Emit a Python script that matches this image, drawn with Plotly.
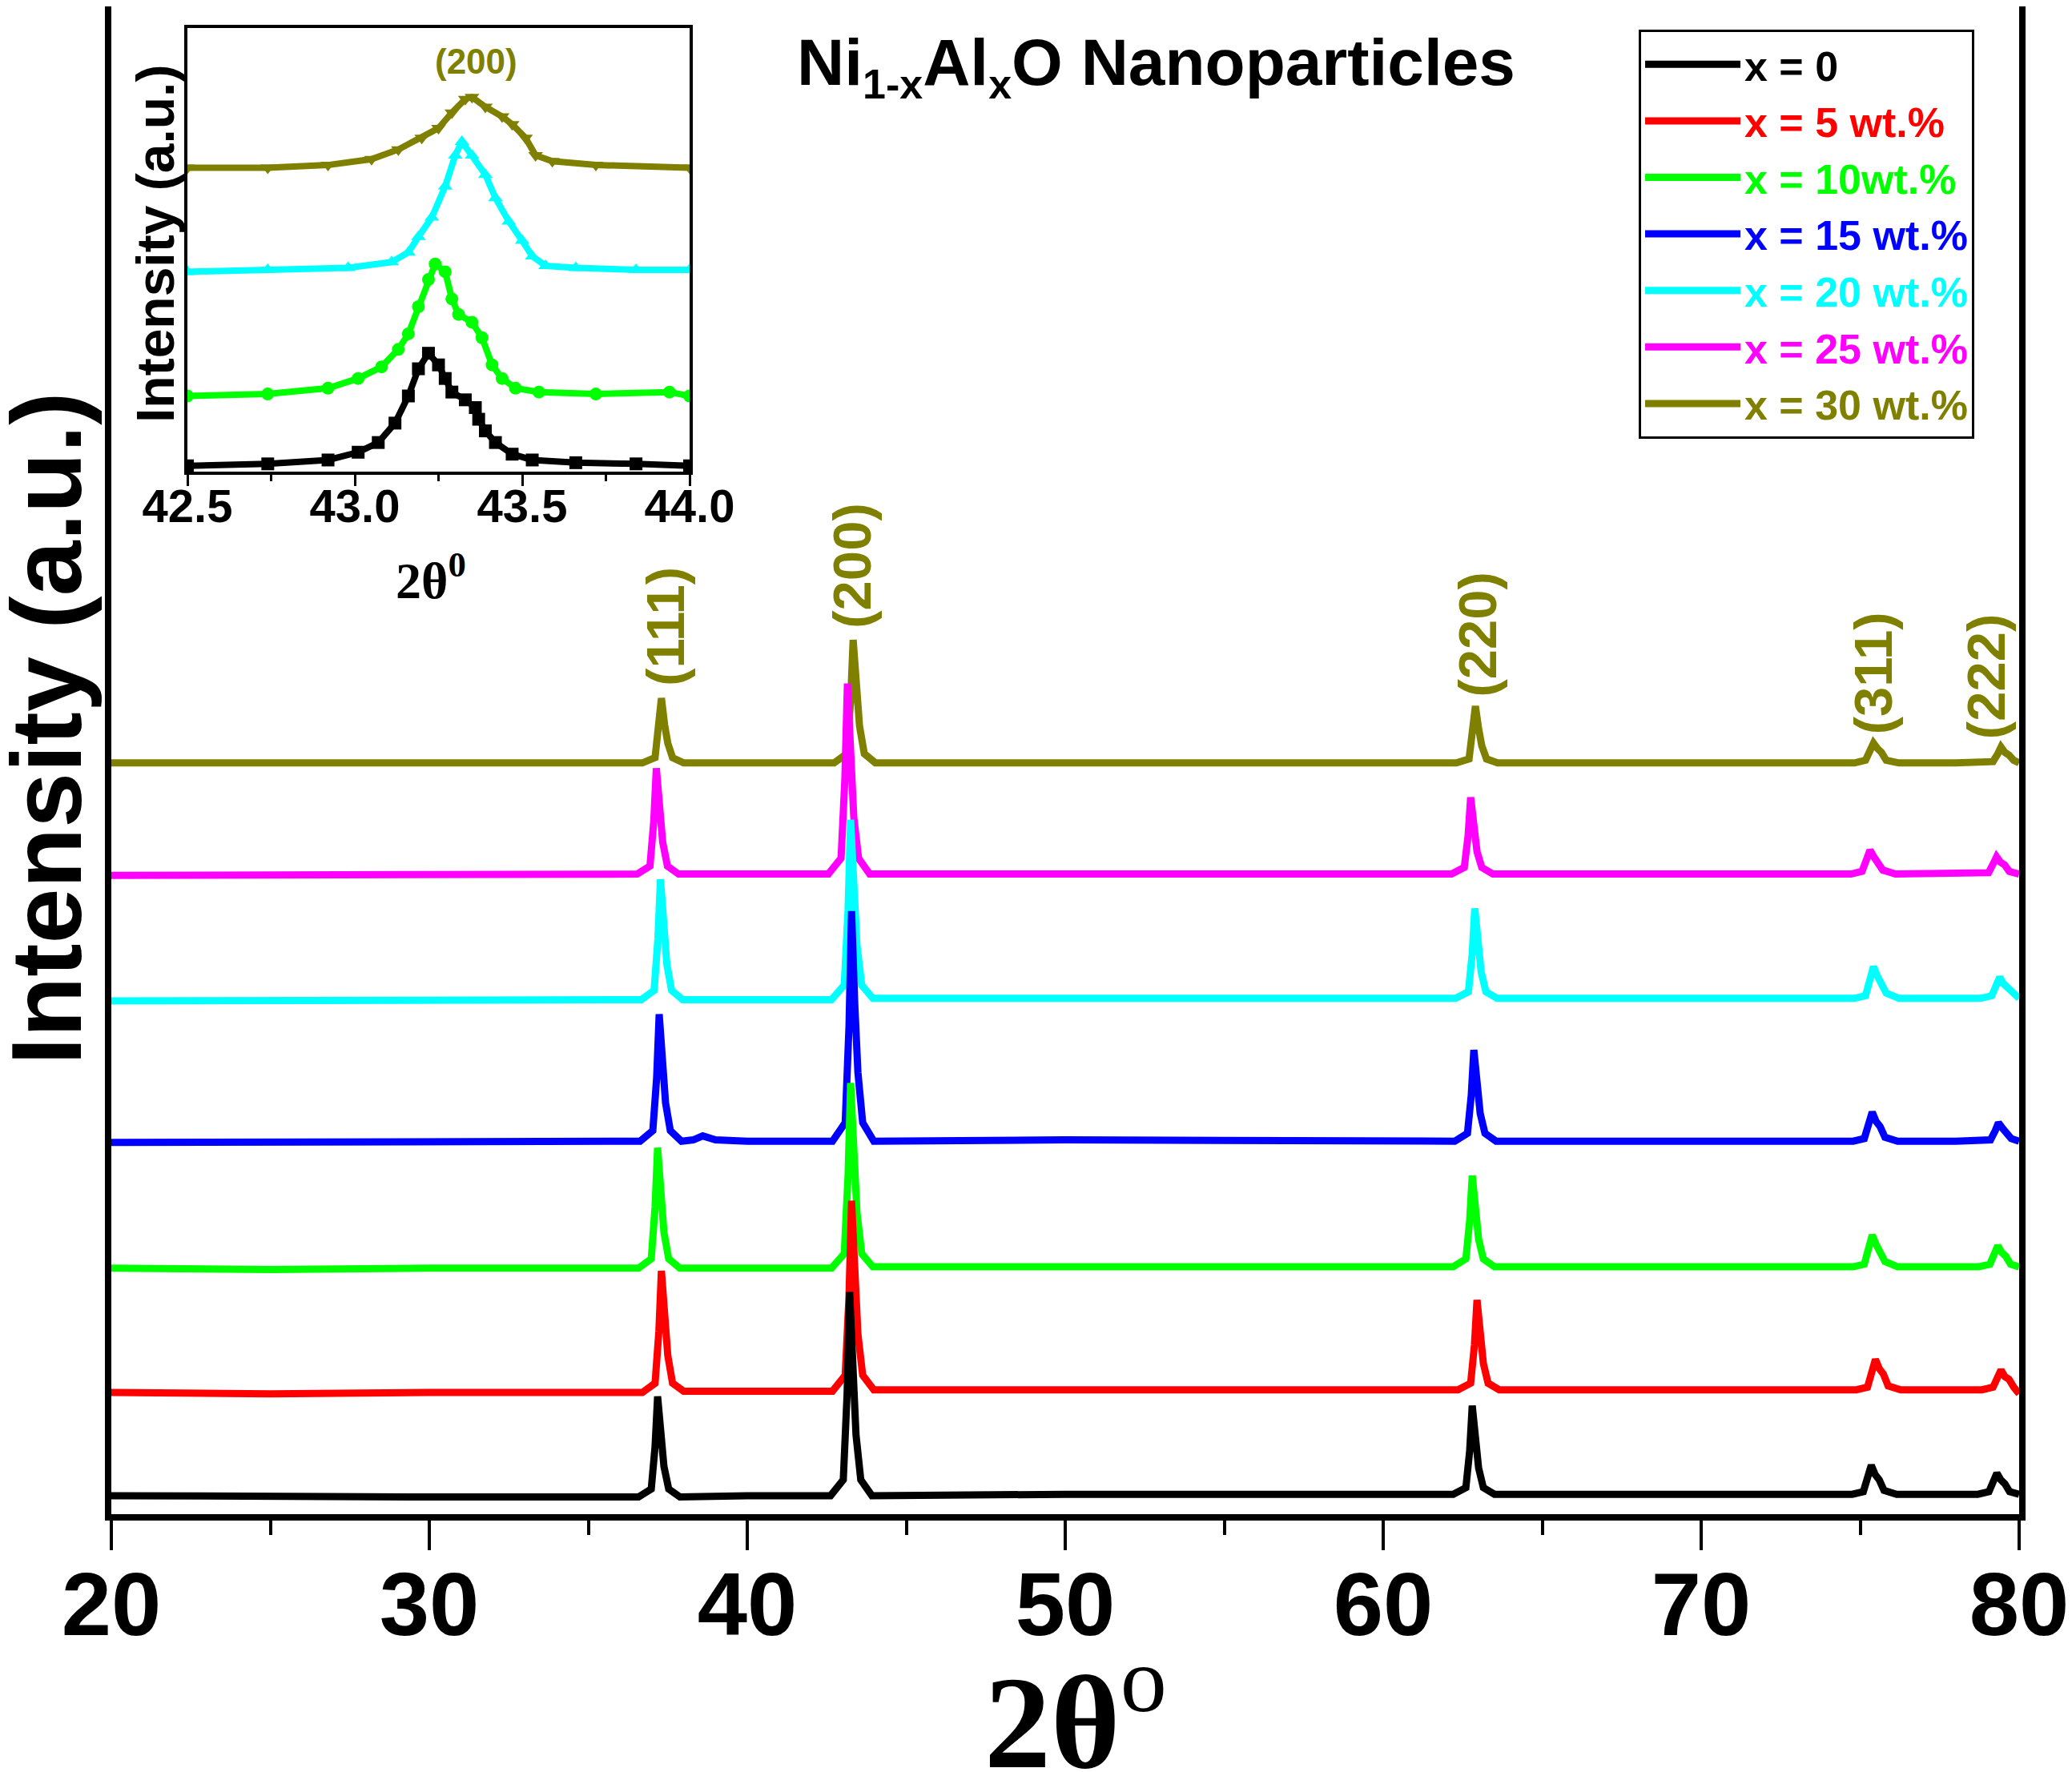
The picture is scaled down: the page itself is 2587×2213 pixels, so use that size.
import plotly.graph_objects as go

# Stacked XRD patterns (2theta in degrees, intensity in a.u. with the vertical offset already applied)
two_theta_0 = [20, 25, 30, 34, 36.58, 36.98, 37.10, 37.18, 37.28, 37.38, 37.53, 37.88, 40,
               42.62, 43.02, 43.14, 43.22, 43.32, 43.42, 43.57, 43.92, 50, 56, 61,
               62.20, 62.60, 62.72, 62.80, 62.90, 63.00, 63.15, 63.50, 70,
               74.75, 75.10, 75.25, 75.35, 75.47, 75.60, 75.75, 76.15, 78,
               78.70, 79.05, 79.20, 79.30, 79.42, 79.55, 79.70, 80.0]
intensity_0 = [14, 13, 13, 13, 13, 19, 51, 89, 59, 36, 19, 13, 14,
               14, 26, 91, 168, 106, 60, 26, 14, 15, 15, 15,
               15, 20, 48, 82, 55, 35, 20, 15, 15,
               15, 17, 28, 37, 30, 26, 18, 15, 15,
               15, 17, 25, 31, 26, 23, 17, 15]

two_theta_5 = [20, 25, 30, 34, 36.70, 37.10, 37.22, 37.30, 37.40, 37.50, 37.65, 38.00, 40,
               42.68, 43.08, 43.20, 43.28, 43.38, 43.48, 43.63, 43.98, 50, 56, 61,
               62.35, 62.75, 62.87, 62.95, 63.05, 63.15, 63.30, 63.65, 70,
               74.88, 75.23, 75.38, 75.48, 75.60, 75.73, 75.88, 76.28, 78,
               78.83, 79.18, 79.33, 79.43, 79.55, 79.68, 79.83, 80.0]
intensity_5 = [92, 91, 92, 92, 92, 99, 138, 184, 147, 120, 99, 93, 93,
               93, 105, 165, 237, 180, 136, 105, 94, 94, 94, 94,
               94, 99, 128, 162, 135, 114, 99, 94, 94,
               94, 96, 108, 117, 110, 106, 97, 94, 94,
               94, 96, 103, 109, 104, 102, 96, 91]

two_theta_10 = [20, 25, 30, 34, 36.58, 36.98, 37.10, 37.18, 37.28, 37.38, 37.53, 37.88, 40,
                42.65, 43.05, 43.17, 43.25, 43.35, 43.45, 43.60, 43.95, 50, 56, 61,
                62.20, 62.60, 62.72, 62.80, 62.90, 63.00, 63.15, 63.50, 70,
                74.78, 75.13, 75.28, 75.38, 75.50, 75.63, 75.78, 76.18, 78,
                78.73, 79.08, 79.23, 79.33, 79.45, 79.58, 79.73, 80.0]
intensity_10 = [186, 185, 186, 186, 186, 193, 232, 277, 241, 213, 193, 186, 186,
                186, 197, 256, 326, 270, 228, 197, 187, 187, 187, 187,
                187, 193, 222, 256, 228, 208, 193, 187, 187,
                187, 189, 201, 211, 204, 199, 191, 187, 187,
                187, 189, 197, 203, 198, 195, 189, 187]

two_theta_15 = [20, 25, 30, 34, 36.63, 37.03, 37.15, 37.23, 37.33, 37.43, 37.58, 37.93,
                38.3, 38.6, 39.0, 40,
                42.68, 43.08, 43.20, 43.28, 43.38, 43.48, 43.63, 43.98, 50, 56, 61,
                62.25, 62.65, 62.77, 62.85, 62.95, 63.05, 63.20, 63.55, 70,
                74.78, 75.13, 75.28, 75.38, 75.50, 75.63, 75.78, 76.18, 78,
                78.75, 79.10, 79.25, 79.35, 79.47, 79.60, 79.75, 80.0]
intensity_15 = [281, 281, 282, 282, 282, 290, 330, 378, 340, 311, 290, 282,
                283, 286, 283, 282,
                282, 296, 369, 456, 386, 334, 296, 282, 283, 283, 282,
                282, 288, 317, 351, 323, 303, 288, 282, 282,
                282, 284, 295, 304, 297, 293, 285, 282, 282,
                282, 283, 290, 296, 292, 289, 284, 282]

two_theta_20 = [20, 25, 30, 34, 36.67, 37.07, 37.19, 37.27, 37.37, 37.47, 37.62, 37.97, 40,
                42.65, 43.05, 43.17, 43.25, 43.35, 43.45, 43.60, 43.95, 50, 56, 61,
                62.28, 62.68, 62.80, 62.88, 62.98, 63.08, 63.23, 63.58, 70,
                74.82, 75.17, 75.32, 75.42, 75.54, 75.67, 75.82, 76.22, 78,
                78.79, 79.14, 79.29, 79.39, 79.51, 79.64, 79.79, 80.0]
intensity_20 = [388, 388, 389, 389, 389, 396, 435, 480, 444, 416, 396, 389, 389,
                389, 400, 457, 525, 471, 430, 400, 390, 390, 390, 390,
                390, 395, 424, 458, 431, 410, 395, 390, 390,
                390, 392, 404, 414, 407, 402, 394, 390, 390,
                390, 392, 400, 406, 401, 398, 393, 390]

two_theta_25 = [20, 25, 30, 34, 36.54, 36.94, 37.06, 37.14, 37.24, 37.34, 37.49, 37.84, 40,
                42.55, 42.95, 43.07, 43.15, 43.25, 43.35, 43.50, 43.85, 50, 56, 61,
                62.15, 62.55, 62.67, 62.75, 62.85, 62.95, 63.10, 63.45, 70,
                74.71, 75.06, 75.21, 75.31, 75.43, 75.56, 75.71, 76.11, 78,
                78.69, 79.04, 79.19, 79.29, 79.41, 79.54, 79.69, 80.0]
intensity_25 = [483, 483, 484, 484, 484, 490, 524, 564, 532, 508, 490, 484, 484,
                484, 496, 556, 628, 570, 527, 496, 484, 484, 484, 484,
                484, 489, 513, 542, 519, 501, 489, 484, 484,
                484, 486, 495, 502, 497, 493, 487, 484, 484,
                484, 485, 492, 497, 493, 491, 486, 484]

two_theta_30 = [20, 25, 30, 34, 36.70, 37.10, 37.22, 37.30, 37.40, 37.50, 37.65, 38.00, 40,
                42.73, 43.13, 43.25, 43.33, 43.43, 43.53, 43.68, 44.03, 50, 56, 61,
                62.30, 62.70, 62.82, 62.90, 63.00, 63.10, 63.25, 63.60, 70,
                74.82, 75.17, 75.32, 75.42, 75.54, 75.67, 75.82, 76.22, 78,
                78.83, 79.18, 79.33, 79.43, 79.55, 79.68, 79.83, 80.0]
intensity_30 = [568, 568, 568, 568, 568, 572, 593, 617, 597, 583, 572, 568, 568,
                568, 575, 615, 661, 624, 596, 575, 568, 568, 568, 568,
                568, 571, 590, 611, 594, 581, 571, 568, 568,
                568, 570, 577, 583, 579, 576, 570, 568, 568,
                568, 569, 575, 580, 576, 574, 570, 568]

# Inset: zoom on the (200) reflection
inset_tt_0 = [42.50, 42.74, 42.92, 43.01, 43.07, 43.12, 43.16, 43.19, 43.22, 43.25, 43.27,
              43.29, 43.33, 43.36, 43.37, 43.39, 43.42, 43.47, 43.53, 43.66, 43.84, 44.00]
inset_int_0 = [15, 20, 30, 50, 75, 125, 195, 265, 305, 275, 240,
               205, 185, 165, 135, 105, 75, 45, 30, 23, 20, 15]
inset_tt_10 = [42.50, 42.74, 42.92, 43.01, 43.08, 43.13, 43.16, 43.19, 43.22, 43.24, 43.27,
               43.29, 43.31, 43.35, 43.38, 43.41, 43.44, 43.48, 43.55, 43.72, 43.94, 44.00]
inset_int_10 = [195, 200, 215, 240, 270, 315, 355, 425, 495, 535, 515,
                445, 405, 385, 345, 275, 240, 215, 205, 200, 205, 195]
inset_tt_20 = [42.50, 42.74, 42.98, 43.11, 43.16, 43.19, 43.23, 43.27, 43.30, 43.32,
               43.35, 43.39, 43.42, 43.46, 43.50, 43.53, 43.57, 43.66, 43.84, 44.00]
inset_int_20 = [515, 520, 525, 540, 565, 605, 655, 735, 815, 850,
                815, 765, 705, 645, 595, 555, 530, 525, 520, 520]
inset_tt_30 = [42.50, 42.74, 42.92, 43.05, 43.13, 43.20, 43.25, 43.29, 43.33,
               43.35, 43.39, 43.44, 43.47, 43.51, 43.54, 43.59, 43.72, 44.00]
inset_int_30 = [783, 783, 790, 805, 830, 860, 885, 925, 960,
                965, 940, 915, 895, 860, 815, 800, 790, 783]

series_names = ["x = 0", "x = 5 wt.%", "x = 10wt.%", "x = 15 wt.%",
                "x = 20 wt.%", "x = 25 wt.%", "x = 30 wt.%"]
series_colors = ["#000000", "#FF0000", "#00FF00", "#0000FF", "#00FFFF", "#FF00FF", "#808000"]
series_x = [two_theta_0, two_theta_5, two_theta_10, two_theta_15, two_theta_20, two_theta_25, two_theta_30]
series_y = [intensity_0, intensity_5, intensity_10, intensity_15, intensity_20, intensity_25, intensity_30]

peak_labels = ["(111)", "(200)", "(220)", "(311)", "(222)"]
peak_label_x = [37.41, 43.30, 62.97, 75.41, 78.96]
peak_label_y = [671, 717, 665, 636, 633]

inset_x = [inset_tt_0, inset_tt_10, inset_tt_20, inset_tt_30]
inset_y = [inset_int_0, inset_int_10, inset_int_20, inset_int_30]
inset_colors = ["#000000", "#00FF00", "#00FFFF", "#808000"]
inset_symbols = ["square", "circle", "triangle-up", "triangle-down"]

SANS = "Liberation Sans, Arial, sans-serif"
SERIF = "Liberation Serif, Times New Roman, serif"

# the page body has an 8px margin, so the figure is a bit smaller and everything is shifted
OFF = 8
W, H = 2587 - OFF, 2213 - OFF


def fx(px):
    return (px - OFF) / W


def fy(py):
    return 1 - (py - OFF) / H


fig = go.Figure()

# draw top pattern first so that x = 0 ends up in front
for i in reversed(range(len(series_names))):
    fig.add_trace(go.Scatter(
        x=series_x[i], y=series_y[i], mode="lines",
        line=dict(color=series_colors[i], width=9),
        name=f"<span style='color:{series_colors[i]}'>{series_names[i]}</span>",
        legendrank=i + 1,
    ))

for i in range(len(inset_x)):
    fig.add_trace(go.Scatter(
        x=inset_x[i], y=inset_y[i], mode="lines+markers",
        line=dict(color=inset_colors[i], width=8),
        marker=dict(symbol=inset_symbols[i], size=16, color=inset_colors[i]),
        xaxis="x2", yaxis="y2", showlegend=False,
    ))

for lab, px_, py_ in zip(peak_labels, peak_label_x, peak_label_y):
    fig.add_annotation(x=px_, y=py_, xref="x", yref="y", text=lab, showarrow=False,
                       textangle=-90, xanchor="center", yanchor="middle",
                       font=dict(family=SANS, size=67, color="#808000", weight="bold"))


def label(x, y, text, size, family=SANS, angle=0, bold=True):
    fig.add_annotation(x=fx(x), y=fy(y), xref="paper", yref="paper", text=text,
                       showarrow=False, textangle=angle, xanchor="center", yanchor="middle",
                       font=dict(family=family, size=size, color="black",
                                 weight="bold" if bold else "normal"))


fig.add_annotation(x=fx(594), y=fy(77), xref="paper", yref="paper", text="(200)", showarrow=False,
                   xanchor="center", yanchor="middle",
                   font=dict(family=SANS, size=44, color="#808000", weight="bold"))

label(1443, 83, "Ni<sub><span style='font-size:52px'>1-x</span></sub>Al"
                "<sub><span style='font-size:52px'>x</span></sub>O Nanoparticles", 82)
label(58, 910, "Intensity (a.u.)", 124, angle=-90)
label(194, 305, "Intensity (a.u.)", 66, angle=-90)
label(1343, 2138, "<b>2θ</b><sup>o</sup>", 166, family=SERIF, bold=False)
label(538, 720, "<b>2θ<sup>0</sup></b>", 64, family=SERIF, bold=False)

fig.update_layout(
    width=W, height=H,
    margin=dict(l=0, r=0, t=0, b=0),
    paper_bgcolor="white", plot_bgcolor="white",
    xaxis=dict(domain=[fx(139), fx(2521)], range=[20, 80], tickvals=[20, 30, 40, 50, 60, 70, 80],
               ticks="outside", ticklen=37, tickwidth=4, tickcolor="black",
               minor=dict(dtick=5, ticks="outside", ticklen=18, tickwidth=4, tickcolor="black"),
               showline=True, linewidth=8, linecolor="black", mirror=True,
               showgrid=False, zeroline=False, automargin=False, ticklabelstandoff=-28,
               tickfont=dict(family=SANS, size=112, color="black", weight="bold")),
    yaxis=dict(domain=[fy(1891), 1], range=[0, 1140], automargin=False,
               showticklabels=False, ticks="", showline=True, linewidth=8, linecolor="black",
               mirror=True, showgrid=False, zeroline=False),
    xaxis2=dict(domain=[fx(234), fx(861)], range=[42.5, 44.0], anchor="y2",
                tickvals=[42.5, 43.0, 43.5, 44.0], ticktext=["42.5", "43.0", "43.5", "44.0"],
                ticks="outside", ticklen=14, tickwidth=3, tickcolor="black",
                minor=dict(dtick=0.25, ticks="outside", ticklen=8, tickwidth=3, tickcolor="black"),
                showline=True, linewidth=4, linecolor="black", mirror=True,
                showgrid=False, zeroline=False, automargin=False, ticklabelstandoff=-25,
                tickfont=dict(family=SANS, size=58, color="black", weight="bold")),
    yaxis2=dict(domain=[fy(589), fy(35)], range=[0, 1143], anchor="x2", automargin=False,
                showticklabels=False, ticks="", showline=True, linewidth=4, linecolor="black",
                mirror=True, showgrid=False, zeroline=False),
    legend=dict(x=fx(2046), y=fy(37), xanchor="left", yanchor="top",
                bgcolor="white", bordercolor="black", borderwidth=3,
                font=dict(family=SANS, size=52, color="black", weight="bold"),
                itemwidth=119, tracegroupgap=0),
    showlegend=True,
)

fig.write_html("out.html")
